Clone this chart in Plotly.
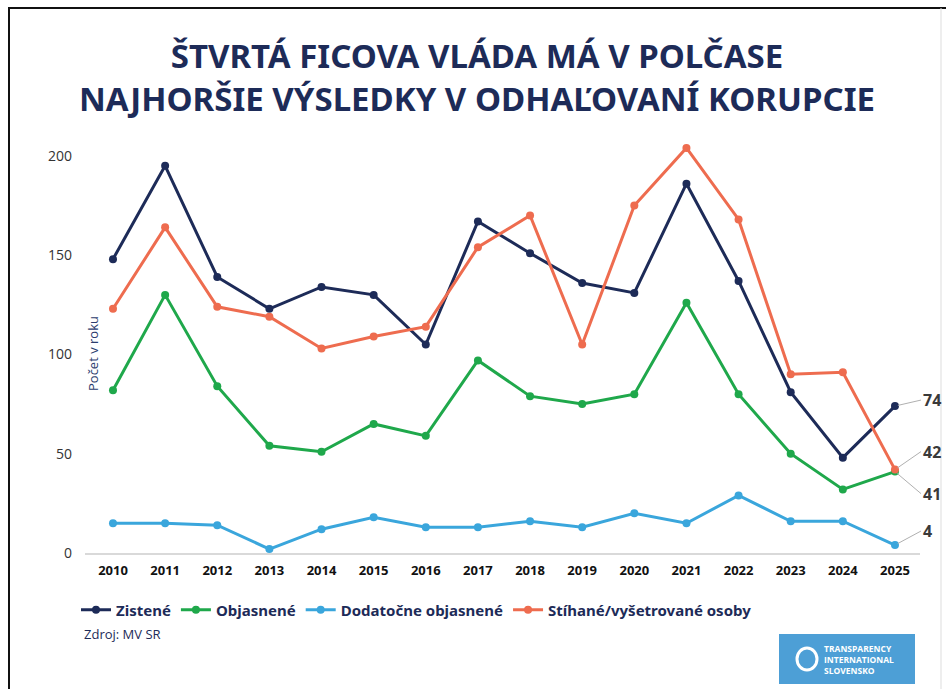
import plotly.graph_objects as go

years = list(range(2010, 2026))
zistene = [148, 195, 139, 123, 134, 130, 105, 167, 151, 136, 131, 186, 137, 81, 48, 74]
objasnene = [82, 130, 84, 54, 51, 65, 59, 97, 79, 75, 80, 126, 80, 50, 32, 41]
dodatocne = [15, 15, 14, 2, 12, 18, 13, 13, 16, 13, 20, 15, 29, 16, 16, 4]
stihane = [123, 164, 124, 119, 103, 109, 114, 154, 170, 105, 175, 204, 168, 90, 91, 42]

series_names = ["Zistené", "Objasnené", "Dodatočne objasnené", "Stíhané/vyšetrované osoby"]
series_values = [zistene, objasnene, dodatocne, stihane]
colors = ["#1d2b58", "#1fa84b", "#3aa6dc", "#ee6c4f"]

title_text = "ŠTVRTÁ FICOVA VLÁDA MÁ V POLČASE<br>NAJHORŠIE VÝSLEDKY V ODHAĽOVANÍ KORUPCIE"
y_title = "Počet v roku"
source_text = "Zdroj: MV SR"
logo_text = "TRANSPARENCY<br>INTERNATIONAL<br>SLOVENSKO"

W, H = 946, 689
L, R, T, B = 85, 26, 140, 136
PW, PH = W - L - R, H - T - B

def px2x(px):
    return (px - L) / PW

def px2y(py):
    return (H - B - py) / PH

FONT = "Open Sans, Noto Sans, sans-serif"
NARROW = "Noto Sans, sans-serif"
NAVY = "#1d2b58"

fig = go.Figure()
for name, vals, col in zip(series_names, series_values, colors):
    fig.add_trace(go.Scatter(
        x=years, y=vals, name=name, mode="lines+markers",
        line=dict(color=col, width=3),
        marker=dict(color=col, size=8),
        cliponaxis=False,
    ))

# end labels
label_order = [0, 3, 1, 2]
offsets = {0: (26, -6), 3: (26, -18), 1: (26, 22), 2: (26, -14)}
for i in label_order:
    ax, ay = offsets[i]
    fig.add_annotation(
        x=years[-1], y=series_values[i][-1], xref="x", yref="y",
        text=str(series_values[i][-1]), showarrow=True, arrowhead=0,
        arrowwidth=1, arrowcolor="#b0b0b0", ax=ax, ay=ay,
        xanchor="left", yanchor="middle", standoff=3,
        font=dict(family=FONT, size=16, color="#3a3a3a", weight="bold"),
    )

# y axis title
fig.add_annotation(
    x=px2x(82), y=px2y(354), xref="paper", yref="paper",
    text=y_title, textangle=-90, showarrow=False,
    font=dict(family=FONT, size=13, color="#2c3d6e"),
)

# source
fig.add_annotation(
    x=px2x(82), y=px2y(634), xref="paper", yref="paper",
    text=source_text, showarrow=False, xanchor="left", yanchor="middle",
    font=dict(family=FONT, size=13, color=NAVY),
)

# logo
fig.add_shape(type="rect", xref="paper", yref="paper",
              x0=px2x(779), x1=px2x(915), y0=px2y(684), y1=px2y(634),
              fillcolor="#4d9fd6", line=dict(width=0), layer="above")
fig.add_shape(type="circle", xref="paper", yref="paper",
              x0=px2x(797), x1=px2x(817), y0=px2y(670), y1=px2y(648),
              fillcolor="rgba(0,0,0,0)", line=dict(color="white", width=3), layer="above")
fig.add_annotation(
    x=px2x(822), y=px2y(659), xref="paper", yref="paper",
    text=logo_text, showarrow=False, xanchor="left", yanchor="middle", align="left",
    font=dict(family=FONT, size=8.5, color="white", weight="bold"),
)

# frame
fig.add_shape(type="line", xref="paper", yref="paper",
              x0=px2x(8), x1=px2x(946), y0=px2y(8), y1=px2y(8),
              line=dict(color="#111111", width=2))
fig.add_shape(type="line", xref="paper", yref="paper",
              x0=px2x(9), x1=px2x(9), y0=px2y(8), y1=px2y(689),
              line=dict(color="#111111", width=2))
fig.add_shape(type="line", xref="paper", yref="paper",
              x0=px2x(941), x1=px2x(941), y0=px2y(8), y1=px2y(689),
              line=dict(color="#dddddd", width=1))

fig.update_layout(
    width=W, height=H,
    margin=dict(l=L, r=R, t=T, b=B),
    paper_bgcolor="white", plot_bgcolor="white",
    title=dict(text=title_text, x=477 / W, xanchor="center", xref="container",
               y=1 - 68 / H, yanchor="middle", yref="container",
               font=dict(family=NARROW, size=33, color=NAVY, weight="bold")),
    xaxis=dict(
        range=[2009.463, 2025.48], tickmode="array", tickvals=years,
        ticktext=[str(y) for y in years], showgrid=False, zeroline=False,
        showline=True, linecolor="#d9d9d9", linewidth=2,
        tickfont=dict(family=FONT, size=13, color="#111111", weight="bold"),
        ticks="", ticklabelstandoff=4,
    ),
    yaxis=dict(
        range=[0, 208], tickvals=[0, 50, 100, 150, 200], showgrid=False,
        zeroline=False, showline=False, ticks="",
        tickfont=dict(family=FONT, size=14, color="#333333"),
        ticklabelstandoff=12,
    ),
    legend=dict(
        orientation="h", x=px2x(76), xanchor="left", y=px2y(610), yanchor="middle",
        font=dict(family=NARROW, size=15, color=NAVY, weight="bold"),
        itemwidth=30, tracegroupgap=0, bgcolor="rgba(0,0,0,0)",
    ),
    showlegend=True,
)

fig.write_html("out.html")
